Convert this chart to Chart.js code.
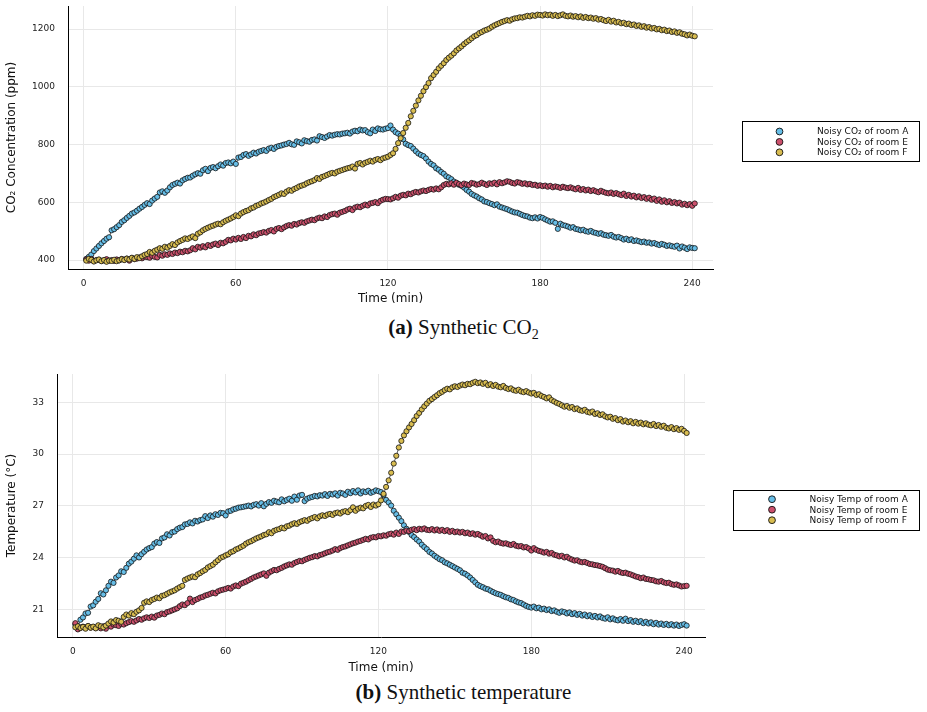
<!DOCTYPE html>
<html>
<head>
<meta charset="utf-8">
<script src="https://cdn.jsdelivr.net/npm/chart.js@4.4.0/dist/chart.umd.min.js"></script>
<style>
  body { margin: 0; background: #fff; width: 927px; height: 712px; position: relative; overflow: hidden; font-family: "DejaVu Sans", sans-serif; }
  .panel { position: absolute; left: 0; width: 927px; }
  .caption { position: absolute; left: 0; width: 927px; text-align: center; font-family: "Liberation Serif", serif; font-size: 21px; color: #111; line-height: 24px; }
  .caption sub { font-size: 14px; line-height: 0; }
</style>
</head>
<body>
<div class="panel" style="top:0;height:310px"><canvas id="co2Chart" width="927" height="310"></canvas></div>
<div class="caption" style="top:315px"><b>(a)</b> Synthetic CO<sub>2</sub></div>
<div class="panel" style="top:360px;height:320px"><canvas id="tempChart" width="927" height="320"></canvas></div>
<div class="caption" style="top:680px"><b>(b)</b> Synthetic temperature</div>

<script>
// time axis: one sample per minute
const minutes = Array.from({ length: 241 }, (_, i) => i + 1);
const timeTicks = [0, 60, 120, 180, 240];
const co2Ticks = [400, 600, 800, 1000, 1200];
const tempTicks = [21, 24, 27, 30, 33];

const co2Labels = ['Noisy CO₂ of room A', 'Noisy CO₂ of room E', 'Noisy CO₂ of room F'];
const tempLabels = ['Noisy Temp of room A', 'Noisy Temp of room E', 'Noisy Temp of room F'];

const co2A = [404,411,419,431,440,449,458,466,474,479,
  503,507,514,521,532,538,546,553,561,565,
  571,578,584,591,597,594,606,613,619,634,
  638,633,641,652,660,664,668,665,676,681,
  685,686,692,697,701,699,711,716,708,719,
  722,718,725,731,727,736,738,735,741,733,
  755,757,764,767,761,766,772,769,775,778,
  781,778,786,789,785,792,795,797,800,802,
  806,801,799,811,808,804,815,812,810,816,
  818,814,829,826,823,828,833,831,834,836,
  835,838,839,841,838,845,848,846,852,849,
  850,843,839,852,847,856,853,852,855,857,
  866,852,843,838,831,818,803,798,795,786,
  777,769,764,760,752,741,733,728,718,713,
  705,699,690,686,680,672,666,661,657,651,
  643,637,629,624,620,614,610,603,601,597,
  594,590,593,585,582,579,576,572,568,565,
  564,560,556,553,551,547,545,548,544,549,
  546,541,537,533,534,529,508,526,521,519,
  516,512,514,508,506,503,505,500,498,501,
  496,494,491,493,488,486,484,487,481,478,
  480,476,471,474,469,472,466,468,465,462,
  464,460,461,457,459,455,452,456,453,449,
  451,448,446,450,440,447,443,438,444,442,441];

const co2E = [402,398,404,396,400,401,397,399,403,398,
  400,397,402,399,404,401,405,398,407,403,
  405,409,406,412,410,408,414,411,409,418,
  415,420,418,423,421,426,424,429,427,432,
  430,434,441,437,446,443,448,444,452,449,
  454,457,452,460,458,463,470,468,474,471,
  477,473,480,476,484,482,489,486,492,494,
  497,495,501,504,499,508,511,507,513,518,
  521,519,525,523,528,531,529,534,537,540,
  538,544,547,545,551,549,556,559,561,557,
  564,567,570,575,578,573,582,585,583,588,
  592,589,596,598,601,597,605,609,612,611,
  610,614,619,616,623,626,624,630,628,633,
  636,634,638,641,639,643,646,644,648,645,
  652,660,664,662,666,661,668,663,659,665,
  662,660,667,665,661,663,668,664,660,666,
  664,668,662,670,666,669,673,671,667,665,
  670,668,664,666,662,664,660,661,657,659,
  656,658,654,657,652,655,653,650,654,651,
  649,652,648,645,650,643,646,641,644,639,
  642,638,635,640,636,633,631,634,629,632,
  628,625,630,622,626,620,623,617,621,615,
  618,612,616,609,613,605,610,602,607,600,
  604,598,601,596,599,592,595,590,594,588,596];

const co2F = [398,404,401,395,399,402,396,400,394,398,
  397,401,396,399,403,400,405,402,408,404,
  410,407,413,418,421,428,425,432,436,441,
  439,446,443,449,455,452,461,466,470,475,
  473,478,482,476,491,496,503,508,512,516,
  519,523,526,524,531,536,540,544,549,555,
  552,561,566,570,573,579,582,588,591,596,
  599,603,608,612,618,622,626,631,629,637,
  642,640,646,650,655,658,661,666,670,673,
  677,684,681,688,691,695,699,702,700,706,
  709,712,715,718,720,724,717,733,736,731,
  737,740,744,741,747,750,746,752,755,758,
  764,770,785,805,822,840,858,875,898,917,
  935,953,969,985,999,1013,1030,1041,1052,1064,
  1073,1082,1093,1101,1108,1116,1126,1133,1140,1148,
  1155,1161,1168,1175,1179,1186,1190,1195,1198,1202,
  1208,1213,1217,1221,1225,1228,1231,1229,1234,1237,
  1238,1241,1240,1243,1246,1244,1248,1246,1250,1249,
  1247,1251,1248,1250,1246,1249,1245,1248,1251,1246,
  1244,1247,1243,1245,1241,1244,1239,1242,1238,1240,
  1236,1238,1233,1235,1231,1228,1232,1226,1229,1223,
  1225,1220,1222,1217,1219,1214,1216,1211,1213,1208,
  1210,1205,1207,1202,1204,1199,1201,1196,1198,1193,
  1195,1190,1192,1187,1189,1184,1182,1178,1181,1177,1175];

const tempA = [20.15,20.05,20.42,20.55,20.78,20.82,21.18,21.25,21.46,21.62,
  21.95,21.88,22.12,22.38,22.62,22.55,22.86,22.98,23.22,23.18,
  23.42,23.66,23.78,23.95,24.14,24.02,24.21,24.35,24.48,24.56,
  24.62,24.82,24.91,24.86,25.12,25.18,25.36,25.29,25.48,25.52,
  25.66,25.74,25.78,25.93,25.96,26.05,25.99,26.14,26.1,26.18,
  26.22,26.41,26.3,26.45,26.38,26.52,26.48,26.6,26.58,26.45,
  26.68,26.72,26.8,26.84,26.9,26.92,26.95,26.98,27.02,26.97,
  27.06,27.1,27.02,27.16,26.98,27.12,27.22,27.18,27.3,27.25,
  27.21,27.38,27.27,27.35,27.42,27.3,27.54,27.36,27.6,27.64,
  27.28,27.42,27.48,27.52,27.58,27.55,27.62,27.6,27.68,27.58,
  27.7,27.66,27.73,27.6,27.76,27.72,27.64,27.82,27.74,27.86,
  27.78,27.9,27.72,27.84,27.8,27.88,27.76,27.82,27.9,27.85,
  27.8,27.62,27.35,27.2,27.02,26.72,26.52,26.32,26.12,25.88,
  25.68,25.5,25.32,25.2,25.06,24.94,24.76,24.62,24.5,24.34,
  24.25,24.12,24.02,23.92,23.86,23.74,23.68,23.6,23.52,23.44,
  23.36,23.28,23.14,23.08,22.98,22.86,22.72,22.58,22.44,22.36,
  22.3,22.22,22.18,22.1,22.02,21.95,21.9,21.86,21.78,21.72,
  21.68,21.6,21.56,21.48,21.42,21.38,21.3,21.22,21.16,21.12,
  21.18,21.08,21.12,21.02,21.06,20.98,21.02,20.92,20.96,20.88,
  20.82,20.9,20.86,20.78,20.84,20.74,20.8,20.7,20.76,20.66,
  20.72,20.62,20.68,20.58,20.64,20.55,20.61,20.52,20.48,20.56,
  20.44,20.5,20.42,20.38,20.46,20.36,20.48,20.34,20.4,20.3,
  20.36,20.28,20.34,20.22,20.3,20.2,20.27,20.16,20.24,20.14,
  20.2,20.12,20.18,20.1,20.16,20.08,20.14,20.06,20.12,20.16,20.08];

const tempE = [20.22,19.86,19.95,20.02,19.98,20.04,19.96,20.0,19.94,20.06,
  19.92,20.04,19.9,20.08,20.02,20.14,20.1,20.06,20.18,20.14,
  20.22,20.28,20.34,20.3,20.38,20.46,20.42,20.5,20.56,20.52,
  20.6,20.54,20.66,20.7,20.78,20.74,20.86,20.9,20.96,21.02,
  21.08,21.2,21.3,21.26,21.38,21.64,21.44,21.56,21.62,21.7,
  21.74,21.82,21.86,21.92,21.98,21.94,22.06,22.12,22.16,22.2,
  22.26,22.22,22.34,22.4,22.36,22.5,22.56,22.62,22.7,22.78,
  22.86,22.92,22.98,23.04,23.1,22.96,23.14,23.22,23.3,23.28,
  23.36,23.42,23.5,23.56,23.62,23.6,23.7,23.76,23.82,23.8,
  23.88,23.94,24.0,24.04,24.1,24.08,24.16,24.2,24.26,24.32,
  24.36,24.42,24.5,24.46,24.56,24.62,24.66,24.72,24.78,24.84,
  24.88,24.94,24.98,25.04,25.1,25.06,25.16,25.2,25.18,25.26,
  25.24,25.3,25.28,25.36,25.4,25.34,25.46,25.38,25.52,25.5,
  25.58,25.54,25.62,25.66,25.6,25.68,25.64,25.7,25.62,25.6,
  25.66,25.58,25.64,25.56,25.62,25.54,25.6,25.5,25.56,25.48,
  25.52,25.46,25.5,25.42,25.46,25.38,25.42,25.34,25.38,25.3,
  25.22,25.26,25.12,25.18,24.98,24.9,24.94,24.86,24.82,24.84,
  24.78,24.74,24.8,24.7,24.66,24.68,24.6,24.62,24.54,24.42,
  24.56,24.46,24.4,24.36,24.3,24.34,24.24,24.28,24.18,24.14,
  24.08,24.12,24.02,24.06,23.96,23.9,23.84,23.86,23.78,23.74,
  23.76,23.7,23.64,23.62,23.58,23.56,23.52,23.48,23.4,23.32,
  23.28,23.26,23.2,23.24,23.16,23.12,23.14,23.08,23.04,22.98,
  22.92,22.88,22.82,22.86,22.78,22.76,22.72,22.7,22.64,22.62,
  22.66,22.58,22.54,22.56,22.48,22.44,22.46,22.4,22.34,22.36,22.38];

const tempF = [19.98,20.04,19.94,20.0,19.9,20.06,19.96,20.02,19.92,20.1,
  20.04,19.98,20.08,20.2,20.32,20.26,20.4,20.36,20.3,20.58,
  20.72,20.66,20.8,20.74,20.88,20.96,21.1,21.4,21.48,21.44,
  21.56,21.62,21.7,21.66,21.8,21.84,21.92,22.0,22.06,22.12,
  22.22,22.3,22.38,22.72,22.8,22.86,22.92,22.88,23.04,23.12,
  23.22,23.3,23.44,23.52,23.6,23.74,23.86,24.0,24.06,24.14,
  24.2,24.32,24.38,24.48,24.54,24.62,24.7,24.82,24.9,24.96,
  25.04,25.12,25.18,25.24,25.32,25.36,25.48,25.42,25.56,25.62,
  25.66,25.74,25.7,25.82,25.86,25.94,26.0,25.96,26.06,26.12,
  26.18,26.14,26.24,26.3,26.36,26.28,26.4,26.46,26.42,26.5,
  26.54,26.48,26.58,26.62,26.56,26.66,26.7,26.64,26.76,26.92,
  26.72,26.84,26.9,26.86,27.0,27.06,26.94,27.08,27.02,27.1,
  27.32,27.7,28.1,28.48,28.92,29.45,29.9,30.38,30.76,31.08,
  31.32,31.54,31.74,31.96,32.2,32.38,32.58,32.76,32.92,33.08,
  33.18,33.3,33.4,33.52,33.6,33.7,33.78,33.74,33.86,33.92,
  33.88,33.96,34.02,33.98,34.06,34.04,34.12,34.18,34.1,34.14,
  34.06,34.12,33.98,34.04,33.94,34.0,33.9,33.86,33.94,33.82,
  33.76,33.8,33.7,33.66,33.72,33.62,33.58,33.64,33.56,33.5,
  33.54,33.42,33.46,33.36,33.3,33.22,33.28,33.12,33.04,32.96,
  32.9,32.82,32.74,32.78,32.68,32.72,32.6,32.64,32.54,32.5,
  32.56,32.44,32.4,32.46,32.32,32.36,32.26,32.3,32.18,32.12,
  32.16,32.04,32.08,31.96,32.02,31.88,31.94,31.84,31.9,31.78,
  31.86,31.76,31.82,31.72,31.78,31.7,31.66,31.74,31.62,31.68,
  31.58,31.64,31.52,31.48,31.56,31.44,31.5,31.4,31.46,31.34,31.22];

const roomColors = ['#66bde6', '#cc506c', '#d8bc50'];

// legend drawn as a framed box to the right of the plot
const boxLegend = {
  id: 'boxLegend',
  afterDraw(chart, args, o) {
    const ctx = chart.ctx;
    ctx.save();
    ctx.fillStyle = '#fff';
    ctx.fillRect(o.x, o.y, o.w, o.h);
    ctx.strokeStyle = '#000';
    ctx.lineWidth = 1;
    ctx.strokeRect(o.x + 0.5, o.y + 0.5, o.w, o.h);
    ctx.font = '9px "DejaVu Sans"';
    ctx.textBaseline = 'middle';
    chart.data.datasets.forEach((ds, i) => {
      const cy = o.rowTop + i * o.rowGap;
      ctx.beginPath();
      ctx.arc(o.markerX, cy, 3.4, 0, Math.PI * 2);
      ctx.fillStyle = ds.pointBackgroundColor;
      ctx.fill();
      ctx.lineWidth = 0.9;
      ctx.strokeStyle = '#111';
      ctx.stroke();
      ctx.fillStyle = '#111';
      ctx.fillText(ds.label, o.textX, cy + 0.5);
    });
    ctx.restore();
  }
};

function series(labels, values) {
  return values.map((v, i) => ({
    label: labels[i],
    data: minutes.map((m, j) => ({ x: m, y: v[j] })),
    showLine: true,
    borderColor: 'rgba(40,40,40,0.85)',
    borderWidth: 0.9,
    pointRadius: 2.6,
    pointBorderWidth: 0.8,
    pointBorderColor: '#141414',
    pointBackgroundColor: roomColors[i],
    order: 2 - i
  }));
}

function makeChart(id, opts) {
  // label offsets come from invisible tick marks, so tick padding stays 0
  const gridOpts = len => ({ color: '#e8e8e8', drawTicks: true, tickLength: len, tickColor: 'rgba(0,0,0,0)' });
  new Chart(document.getElementById(id).getContext('2d'), {
    type: 'line',
    data: { datasets: series(opts.labels, opts.values) },
    options: {
      responsive: false,
      animation: false,
      layout: { autoPadding: false, padding: { top: opts.padTop, right: opts.padRight, left: 0, bottom: 0 } },
      plugins: { legend: { display: false }, tooltip: { enabled: false }, boxLegend: opts.legend },
      scales: {
        x: {
          type: 'linear', min: -6.2, max: 248.2,
          afterBuildTicks: s => { s.ticks = timeTicks.map(v => ({ value: v })); },
          afterFit: s => { s.height = opts.xHeight; },
          grid: gridOpts(9),
          border: { color: '#000', width: 1 },
          ticks: { padding: 0, color: '#222', font: { family: 'DejaVu Sans', size: 9 }, callback: v => String(v) },
          title: { display: true, text: 'Time (min)', color: '#111', font: { family: 'DejaVu Sans', size: 12 }, padding: { top: 0, bottom: opts.xTitlePad } }
        },
        y: {
          min: opts.yMin, max: opts.yMax,
          afterBuildTicks: s => { s.ticks = opts.yTicks.map(v => ({ value: v })); },
          afterFit: s => { s.width = opts.yWidth; },
          grid: gridOpts(13),
          border: { color: '#000', width: 1 },
          ticks: { padding: 0, color: '#222', font: { family: 'DejaVu Sans', size: 9 }, callback: v => String(v) },
          title: { display: true, text: opts.yTitle, color: '#111', font: { family: 'DejaVu Sans', size: 12 }, padding: { top: 5, bottom: 0 } }
        }
      }
    },
    plugins: [boxLegend]
  });
}

makeChart('co2Chart', {
  labels: co2Labels, values: [co2A, co2E, co2F],
  padTop: 6, padRight: 214, xHeight: 41, xTitlePad: 4, yWidth: 68,
  yMin: 369, yMax: 1280, yTicks: co2Ticks, yTitle: 'CO₂ Concentration (ppm)',
  legend: { x: 742, y: 121, w: 177, h: 40, markerX: 779.5, textX: 817, rowTop: 131.5, rowGap: 10.4 }
});

makeChart('tempChart', {
  labels: tempLabels, values: [tempA, tempE, tempF],
  padTop: 14, padRight: 222, xHeight: 43, xTitlePad: 5, yWidth: 57,
  yMin: 19.42, yMax: 34.63, yTicks: tempTicks, yTitle: 'Temperature (°C)',
  legend: { x: 733, y: 130, w: 186, h: 40, markerX: 772, textX: 809.5, rowTop: 139.2, rowGap: 10.5 }
});
</script>
</body>
</html>
